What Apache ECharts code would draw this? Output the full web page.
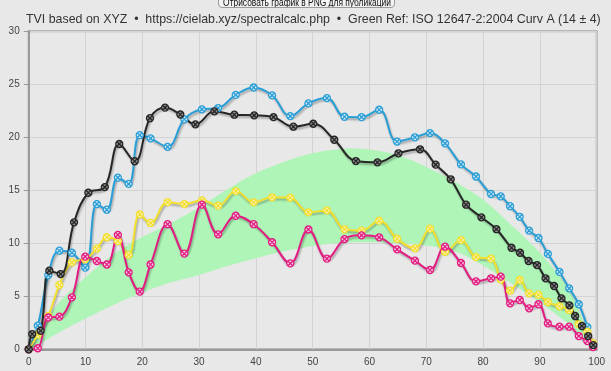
<!DOCTYPE html>
<html>
<head>
<meta charset="utf-8">
<script src="https://cdn.jsdelivr.net/npm/echarts@6/dist/echarts.min.js"></script>
<style>
html,body{margin:0;padding:0;background:#e8e8e8;}
#chart{position:absolute;left:0;top:0;width:611px;height:371px;}
#btn{position:absolute;left:218px;top:-8px;width:175px;height:14px;border:1px solid #9a9a9a;border-radius:4px;
background:linear-gradient(#ffffff,#eeeeee);color:#111;overflow:hidden;z-index:5;}
#btn span{position:absolute;left:50%;top:4px;white-space:nowrap;font:10.5px/10px "Liberation Sans",Arial,sans-serif;transform:translateX(-50%) scaleX(0.8);}
</style>
</head>
<body>
<div id="chart"></div>
<div id="btn"><span>Отрисовать график в PNG для публикации</span></div>
<script>
// ---- data ----
const titleText = 'TVI based on XYZ  \u2022  https://cielab.xyz/spectralcalc.php  \u2022  Green Ref: ISO 12647-2:2004 Curv A (14 \u00b1 4)';

const xTicks = [0, 10, 20, 30, 40, 50, 60, 70, 80, 90, 100];

// tone values shared by cyan / magenta / yellow
const cmyX = [0, 1.6, 3.45, 5.4, 7.6, 9.95, 12.0, 13.75, 15.7, 17.6, 19.55, 21.45, 24.45, 27.4, 30.5, 33.35, 36.45, 39.6, 42.85, 46.05, 49.25, 52.5, 55.6, 58.6, 61.7, 64.85, 68.0, 70.65, 73.3, 76.1, 78.75, 81.4, 83.1, 84.75, 86.45, 88.1, 89.75, 91.4, 93.45, 95.15, 96.85, 98.35, 99.35];
const cyanY = [0, 2.23, 7.0, 9.3, 9.11, 7.7, 13.7, 13.17, 16.2, 15.6, 20.2, 19.9, 19.1, 21.7, 22.64, 22.76, 24.0, 24.7, 23.96, 22.0, 23.2, 23.7, 21.94, 21.9, 22.6, 19.6, 20.0, 20.4, 19.43, 17.45, 16.3, 14.65, 14.43, 13.5, 12.5, 11.2, 10.5, 9.0, 7.3, 5.75, 4.25, 2.1, 0.3];
const magentaY = [0, 0.1, 3.0, 3.08, 4.9, 8.74, 8.33, 8.0, 10.8, 7.26, 5.44, 8.0, 11.8, 9.02, 13.65, 10.85, 12.6, 11.8, 10.1, 8.1, 11.3, 8.55, 10.4, 10.75, 10.56, 9.43, 8.36, 7.48, 9.68, 8.14, 6.41, 6.7, 6.85, 4.34, 4.65, 3.87, 4.25, 2.45, 2.13, 2.13, 1.25, 0.78, 0.2];
const yellowY = [0, 1.4, 3.14, 6.07, 8.2, 8.5, 9.5, 10.57, 10.2, 8.9, 12.73, 11.92, 13.88, 13.7, 14.05, 13.55, 14.93, 13.87, 14.34, 14.3, 12.92, 13.1, 11.32, 11.19, 12.13, 10.43, 9.52, 11.38, 9.18, 10.3, 8.7, 8.55, 6.57, 5.53, 6.54, 5.28, 5.15, 4.46, 4.06, 3.7, 2.36, 1.66, 0.57];

const blackX = [0, 0.63, 2.1, 3.63, 5.63, 7.98, 10.5, 13.4, 15.95, 18.66, 21.35, 24.0, 26.7, 29.35, 32.7, 36.2, 39.7, 43.1, 46.6, 50.1, 53.8, 57.6, 61.4, 65.1, 68.9, 71.65, 74.3, 77.0, 79.7, 82.35, 85.0, 86.5, 88.0, 89.5, 91.0, 92.5, 93.8, 95.2, 96.2, 97.4, 98.5, 99.4];
const blackY = [0, 1.44, 1.75, 7.42, 7.1, 11.98, 14.77, 15.3, 19.37, 17.74, 21.8, 22.8, 22.15, 21.22, 22.45, 22.13, 22.07, 21.9, 21.0, 21.28, 19.77, 17.76, 17.64, 18.49, 18.87, 17.42, 16.04, 13.64, 12.45, 11.33, 9.58, 9.11, 8.33, 7.95, 6.7, 5.97, 4.81, 4.15, 3.14, 2.2, 1.25, 0.4];

// green reference band (ISO 12647-2 curve A, 14 +/- 4)
const bandX = [0, 5, 10, 15, 20, 25, 30, 35, 40, 45, 50, 55, 60, 65, 70, 75, 80, 85, 90, 95, 98, 100];
const bandLow = [0, 1.5, 2.9, 4.2, 5.35, 6.3, 7.0, 7.85, 8.6, 9.25, 9.75, 10.05, 10.1, 10.0, 9.8, 9.25, 7.9, 6.2, 4.4, 2.4, 0.9, 0];
const bandHigh = [0, 4.2, 6.8, 9.0, 10.6, 11.9, 13.4, 15.1, 16.6, 17.7, 18.5, 18.9, 18.85, 18.3, 17.2, 15.8, 14.1, 11.7, 9.1, 5.7, 2.3, 0];

// ---- build chart ----
const zip = (xs, ys) => xs.map((x, i) => [x, ys[i]]);
const markerPath = 'path://M0,10 A10,10 0 1,1 20,10 A10,10 0 1,1 0,10 Z M4,4 L16,16 M16,4 L4,16';

function curve(name, xs, ys, color, fill) {
  return {
    name: name, type: 'line', data: zip(xs, ys), smooth: 0.4,
    symbol: markerPath, symbolSize: 7, showSymbol: true,
    lineStyle: { color: color, width: 2, shadowColor: 'rgba(0,0,0,0.3)', shadowBlur: 2, shadowOffsetX: 1, shadowOffsetY: 2 },
    itemStyle: { color: fill, borderColor: color, borderWidth: 1.3 },
    emphasis: { disabled: true }, z: 3
  };
}

function renderBand(params, api) {
  const pts = [];
  for (let i = 0; i < bandX.length; i++) pts.push(api.coord([bandX[i], bandHigh[i]]));
  for (let i = bandX.length - 2; i > 0; i--) pts.push(api.coord([bandX[i], bandLow[i]]));
  return { type: 'polygon', shape: { points: pts, smooth: 0.35 }, style: { fill: '#aff5b8' }, silent: true };
}

const chart = echarts.init(document.getElementById('chart'), null, { renderer: 'canvas' });
chart.setOption({
  backgroundColor: '#e8e8e8',
  animation: false,
  title: {
    text: titleText, left: 21, top: 9,
    textStyle: { fontSize: 12.4, fontWeight: 'normal', color: '#333', fontFamily: 'Liberation Sans' }
  },
  grid: { left: 28.7, right: 14.3, top: 31.3, bottom: 21.7, show: true, borderColor: '#a6a6a6', borderWidth: 2, backgroundColor: 'transparent', outerBoundsMode: 'none' },
  xAxis: {
    type: 'value', min: 0, max: 100, interval: 10,
    axisLine: { show: true, onZero: false, lineStyle: { color: '#9a9a9a', width: 2 } },
    axisTick: { show: false },
    axisLabel: { color: '#444', fontSize: 10, margin: 8, fontFamily: 'Liberation Sans', formatter: v => xTicks.includes(v) ? String(v) : '' },
    splitLine: { show: true, lineStyle: { color: '#d3d3d3', width: 1 } }
  },
  yAxis: {
    type: 'value', min: 0, max: 30, interval: 5,
    axisLine: { show: true, onZero: false, lineStyle: { color: '#9a9a9a', width: 2 } },
    axisTick: { show: true, length: 5, lineStyle: { color: '#9a9a9a' } },
    axisLabel: { color: '#444', fontSize: 10, margin: 9, fontFamily: 'Liberation Sans' },
    splitLine: { show: true, lineStyle: { color: '#d3d3d3', width: 1 } }
  },
  series: [
    { name: 'band', type: 'custom', data: [[50, 10]], renderItem: renderBand, clip: true, silent: true, z: 1 },
    curve('C', cmyX, cyanY, '#2a9ed6', '#cfe8f4'),
    curve('Y', cmyX, yellowY, '#f2df2e', '#f8f2c4'),
    curve('M', cmyX, magentaY, '#e21c80', '#f2c9de'),
    curve('K', blackX, blackY, '#262626', '#8f8f8f')
  ]
});
</script>
</body>
</html>
